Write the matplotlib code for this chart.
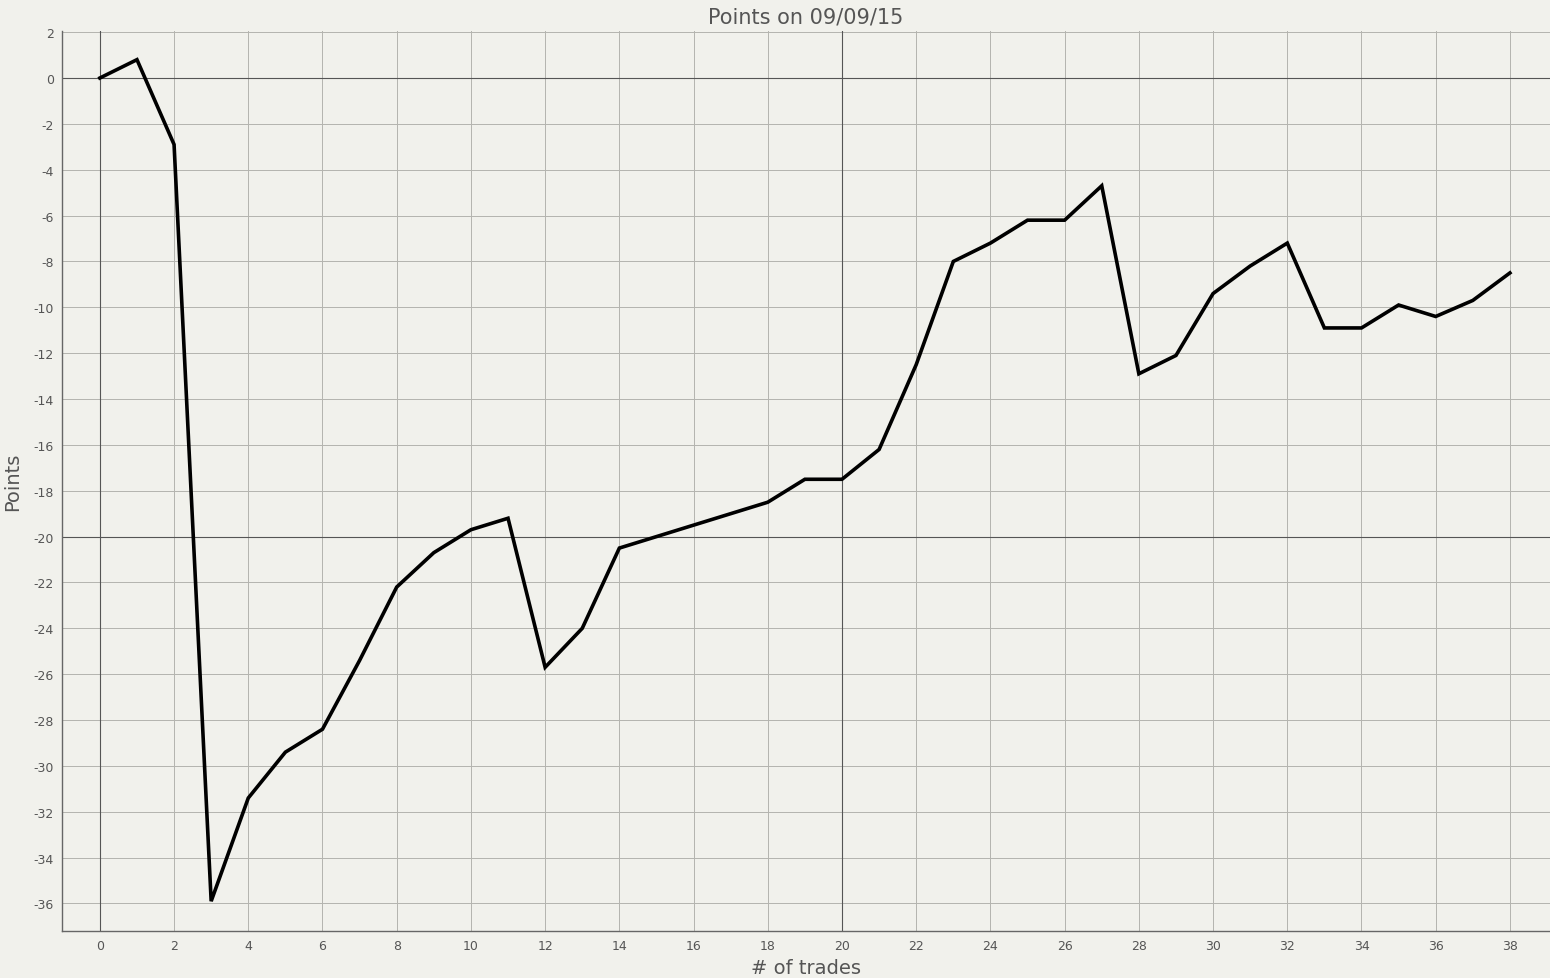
import matplotlib
matplotlib.use("Agg")
import matplotlib.pyplot as plt
from matplotlib.ticker import MultipleLocator

plt.rcParams['axes.unicode_minus'] = False

trades = list(range(39))
points = [0, 0.8, -2.9, -35.9, -31.4, -29.4, -28.4, -25.4, -22.2, -20.7,
          -19.7, -19.2, -25.7, -24.0, -20.5, -20.0, -19.5, -19.0, -18.5, -17.5,
          -17.5, -16.2, -12.5, -8.0, -7.2, -6.2, -6.2, -4.7, -12.9, -12.1,
          -9.4, -8.2, -7.2, -10.9, -10.9, -9.9, -10.4, -9.7, -8.5]

bg = '#f1f1ec'
txt = '#555555'
fig = plt.figure(figsize=(15.5, 9.79), dpi=100, facecolor=bg)
ax = fig.add_axes([62/1550, 47/979, 1 - 62/1550, (932-32)/979])
ax.set_facecolor(bg)

ax.plot(trades, points, color='black', lw=2.6, zorder=3, solid_joinstyle='miter')

ax.set_xlim(-1.02, 39.08)
ax.set_ylim(-37.2, 2.05)
ax.xaxis.set_major_locator(MultipleLocator(2))
ax.yaxis.set_major_locator(MultipleLocator(2))
ax.grid(True, color='#b4b4af', lw=0.7, zorder=1)
ax.axhline(0, color='#555555', lw=0.8, zorder=2)
ax.axhline(-20, color='#555555', lw=0.8, zorder=2)
ax.axvline(0, color='#555555', lw=0.8, zorder=2)
ax.axvline(20, color='#555555', lw=0.8, zorder=2)

for s in ['top', 'right']:
    ax.spines[s].set_visible(False)
for s in ['left', 'bottom']:
    ax.spines[s].set_color('#666666')
    ax.spines[s].set_linewidth(1.0)
ax.tick_params(length=0, labelsize=9, colors=txt, pad=6)

ax.set_title('Points on 09/09/15', fontsize=15, color=txt, pad=6)
ax.set_xlabel('# of trades', fontsize=14, color=txt, labelpad=4)
ax.set_ylabel('Points', fontsize=14, color=txt, labelpad=8)

fig.savefig('out.png', dpi=100, facecolor=bg)
